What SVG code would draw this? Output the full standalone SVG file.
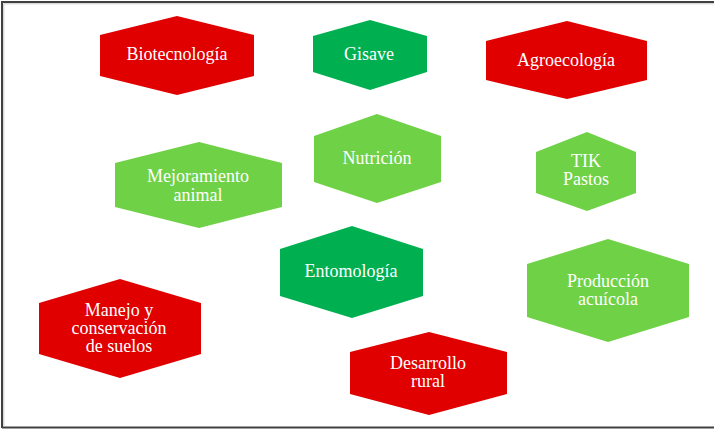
<svg xmlns="http://www.w3.org/2000/svg" width="714" height="429" viewBox="0 0 714 429">
<style>
.red{fill:#E00000}
.dg{fill:#00B050}
.lg{fill:#6FD146}
text{font-family:"Liberation Serif","Times New Roman",serif;font-size:18px;fill:#FFFFFF;text-anchor:middle}
</style>
<rect x="0" y="0" width="714" height="429" fill="#FFFFFF"/>
<path d="M2,428 V2 H714 M2,427.5 H714" fill="none" stroke="#404040" stroke-width="2"/>
<path d="M3.8,426 V3.8 H714" fill="none" stroke="#C8C8C8" stroke-width="1"/>
<g id="connectors"></g>
<g id="biotecnologia">
<polygon class="red" points="177,16 254,35 254,76 177,95 100,76 100,35"/>
<text x="177" y="60">Biotecnología</text>
</g>
<g id="gisave">
<polygon class="dg" points="370,20 427,36 427,72 370,90 313,72 313,36"/>
<text x="369" y="60">Gisave</text>
</g>
<g id="agroecologia">
<polygon class="red" points="567,21 647,41 647,80 567,99 486,80 486,41"/>
<text x="566" y="66">Agroecología</text>
</g>
<g id="nutricion">
<polygon class="lg" points="377,114 441,136 441,182 377,203 314,182 314,136"/>
<text x="377" y="164">Nutrición</text>
</g>
<g id="tik-pastos">
<polygon class="lg" points="587,132 636,152 636,193 587,211 536,193 536,152"/>
<text x="586" y="167">TIK</text>
<text x="586" y="185">Pastos</text>
</g>
<g id="mejoramiento-animal">
<polygon class="lg" points="199,142 282,163 282,207 199,228 115,207 115,163"/>
<text x="198" y="182">Mejoramiento</text>
<text x="198" y="201">animal</text>
</g>
<g id="entomologia">
<polygon class="dg" points="352,226 423,249 423,296 352,318 280,296 280,249"/>
<text x="351" y="277">Entomología</text>
</g>
<g id="produccion-acuicola">
<polygon class="lg" points="608,239 689,264 689,317 608,342 527,317 527,264"/>
<text x="608" y="287">Producción</text>
<text x="608" y="305">acuícola</text>
</g>
<g id="manejo-suelos">
<polygon class="red" points="120,279 201,303 201,354 120,378 39,354 39,303"/>
<text x="119" y="316">Manejo y</text>
<text x="119" y="334">conservación</text>
<text x="119" y="352">de suelos</text>
</g>
<g id="desarrollo-rural">
<polygon class="red" points="429,332 507,352 507,394 429,415 350,394 350,352"/>
<text x="428" y="369">Desarrollo</text>
<text x="428" y="387">rural</text>
</g>
</svg>
